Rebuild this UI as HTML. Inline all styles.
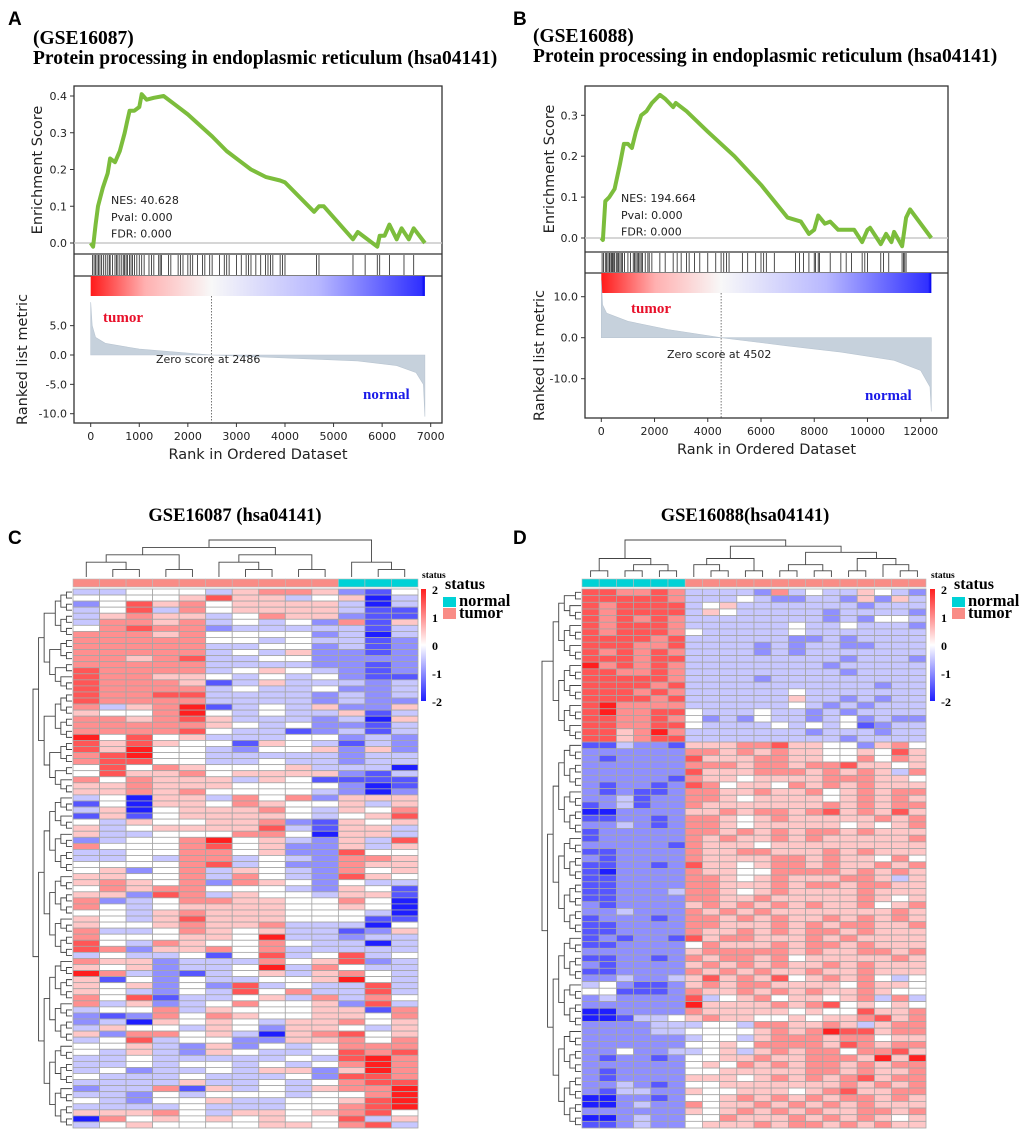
<!DOCTYPE html>
<html><head><meta charset="utf-8"><style>
html,body{margin:0;padding:0;background:#fff;}
svg{display:block;}
.tk{font-family:"DejaVu Sans","Liberation Sans",sans-serif;font-size:11px;fill:#222;}
.al{font-family:"DejaVu Sans","Liberation Sans",sans-serif;font-size:14.5px;fill:#222;}
.ser{font-family:"Liberation Serif",serif;font-weight:bold;}
</style></head><body>
<svg id="fig" width="1020" height="1132" viewBox="0 0 1020 1132" xmlns="http://www.w3.org/2000/svg">
<g id="root"></g>
</svg>
<script>
// ===== Panel A data =====
const esA_rank=[0,50,100,150,250,350,400,500,600,700,750,800,900,1000,1050,1150,1300,1500,1700,2000,2500,2800,3100,3300,3600,3900,4000,4600,4700,4800,5400,5500,5650,5900,5950,6050,6150,6300,6400,6550,6650,6880];
const esA_val=[0,-0.01,0.05,0.1,0.15,0.19,0.23,0.22,0.25,0.3,0.33,0.36,0.36,0.37,0.405,0.39,0.395,0.4,0.38,0.35,0.29,0.25,0.22,0.2,0.18,0.17,0.165,0.085,0.1,0.1,0.01,0.03,0.015,-0.01,0.02,0.02,0.05,0.01,0.04,0.01,0.04,0];
const hitsA=[40,70,100,130,160,190,220,260,300,340,380,400,450,500,530,560,600,640,680,700,730,760,800,830,860,900,950,1000,1050,1100,1200,1250,1300,1400,1430,1460,1600,1650,1800,1850,1900,2000,2050,2100,2200,2300,2350,2450,2500,2650,2750,2800,2850,3000,3100,3200,3250,3300,3400,3500,3600,3650,3700,3750,3900,3950,4000,4650,4700,5400,5650,5900,5950,6150,6450,6650];
const rmA_rank=[0,30,100,300,1000,2486,4000,5500,6300,6700,6850,6880];
const rmA_val=[9,5,3,2,1,0,-0.5,-1,-1.8,-3,-5,-10.5];
const esA_ticks=[0,0.1,0.2,0.3,0.4];
const rmA_ticks=[5,0,-5,-10];
const xA_ticks=[0,1000,2000,3000,4000,5000,6000,7000];
// ===== Panel B data =====
const esB_rank=[0,60,150,300,500,700,850,1000,1150,1300,1500,1700,1900,2200,2400,2700,2800,3200,4000,5000,6000,7000,7500,7800,8000,8150,8400,8600,8900,9500,9800,10000,10100,10500,10700,10900,11000,11300,11450,11600,12400];
const esB_val=[0,-0.005,0.09,0.1,0.12,0.18,0.23,0.23,0.22,0.26,0.3,0.31,0.33,0.35,0.34,0.32,0.33,0.31,0.26,0.2,0.13,0.05,0.04,0.01,0.02,0.055,0.035,0.04,0.02,0.02,-0.01,0.02,0.025,-0.015,0.01,-0.01,0.015,-0.02,0.05,0.07,0];
const hitsB=[30,80,150,200,250,300,330,380,420,450,500,560,600,650,700,750,800,870,1000,1100,1200,1250,1300,1350,1400,1450,1500,1550,1650,1750,1800,1900,2200,2400,2700,2850,3000,3200,3300,3500,3700,4000,4300,4500,4600,4700,4800,5300,5500,5800,6000,6100,6200,6500,7300,7450,7600,7800,8000,8050,8150,8200,8600,9000,9200,9400,9800,9900,10000,10500,10600,10800,11300,11350,11400,11450];
const rmB_rank=[0,50,200,1000,2500,4502,7000,9000,11000,12000,12350,12400];
const rmB_val=[14,8,6,4,2,0,-2,-3.5,-5.5,-8,-12,-18];
const esB_ticks=[0,0.1,0.2,0.3];
const rmB_ticks=[10,0,-10];
const xB_ticks=[0,2000,4000,6000,8000,10000,12000];
// ===== Heatmap C data (levels 0..8 => -2..2) =====
const statusC=["t","t","t","t","t","t","t","t","t","t","n","n","n"];
const heatC=["3344435665214","4444575534503","2475645555303","3473645555311","3565534655211","3665634342615","4676623333313","6665644442303","6666644343312","6666633442312","6666634352212","6656733442222","6666633332212","7666634543212","7665543434211","7666513533323","7666634334223","7667733332323","7666633332322","6356813435225","5446843433513","6656753332305","6666654342213","6666743312313","8474533344232","7575441543132","7584432445252","6784433333233","6774433433233","4746544453330","4755645555213","6465553541111","5565554444201","5565644443202","3405536462555","1405546544535","3504555643546","1514555543457","4354455621545","5345555731553","5334446640553","2344684532537","6444674522535","3344664522744","3343663432665","4444673422655","4524635432645","5544636432754","5654626542433","4656644432541","5527635443551","6234665544640","6434555544540","4435655544430","5435755544411","5445655633304","6334654533125","6444554833233","7436544643303","7625564633333","3433414734734","6552333645723","5452334836433","8632134535643","5142433445843","5452427343373","5432437463373","6471334536364","6352346445273","3446354445516","2126465445546","2305454355645","3544354255435","5266453056745","3473442255646","4453252434666","4353254334767","3343333343786","3343443434686","3423343552586","4333433342776","3333533434677","2336153435668","3324344434468","4324453344578","3333433344678","5556435545674","0645454544735","3454444554673"];
// ===== Heatmap D data =====
const statusD=["n","n","n","n","n","n","t","t","t","t","t","t","t","t","t","t","t","t","t","t"];
const heatD=["77667633332634335432","77777633343223325253","76777734533333332333","76777735433333233332","76767633333333232443","76777633333343343332","76777643333343333333","77776733333322323333","77766733332323322333","76767633332323333333","77767733333333323332","86767633333333233333","77667633333333323333","77777633332333333333","77776733333333333233","77767633333343333333","77776733333353323233","78666633333343232333","78667743334332323333","77667642324332342322","77667743333434341233","77568633333332333233","77567733333333323333","11322155566755442564","22222266565655445475","21222275556655446465","22222266656656675545","22222275556665656536","22222165545555666554","21221276455465656555","21211266556556456566","22312266545555456565","12312265555555656566","00222255656656756575","11221266545655555656","22321266545555545456","12222266565656656555","12222265655656555556","22222165554555555555","11222265566555656555","21222265555665655464","11221275545665655656","10222265544666656565","11222266545655566535","11222266555656656655","11222366545655556555","11222266556555556545","21222256565656556456","22322265656555555565","12221266565655656565","11222266555656566556","11222265565656656555","12122175665556565555","11222246555656656555","22222256666656556656","11221265665645555565","21222256565655656555","11222265656556556555","22322357565745656434","34211256566555546554","44111265565656556544","23222273456455456363","22222285555656745454","00222265555545447556","00133456554454556756","22223334436655653566","22223344445656877566","22222234435666566455","22222244546666576566","22422334535656646675","21221244556556665858","22222245465656656566","21222244555556656556","21222255545656567566","22321244555555565656","21332254455545675566","00221244565656566565","00232264556565656555","22222254565656556656","00232244655565656545","11232245556566565655"];
const cbar_ticks=[2,1,0,-1,-2];

const NS="http://www.w3.org/2000/svg";
const root=document.getElementById('root');
function mk(tag,attrs,parent,text){const e=document.createElementNS(NS,tag);for(const k in attrs)e.setAttribute(k,attrs[k]);if(text!==undefined)e.textContent=text;(parent||root).appendChild(e);return e;}

function gsea(P){
  const g=mk('g',{});
  
  
  const sx=r=>P.x0+(r-P.r0)*P.kx;
  const sy=v=>P.esZero-v*P.kes;
  const sr=v=>P.rmZero-v*P.krm;
  const fr=mk('rect',{x:P.L,y:P.T,width:P.R-P.L,height:P.B-P.T,fill:'none',stroke:'#333','stroke-width':1.3},g);
  
  mk('line',{x1:P.L,x2:P.R,y1:P.esB,y2:P.esB,stroke:'#333','stroke-width':1.3},g);
  mk('line',{x1:P.L,x2:P.R,y1:P.hitB,y2:P.hitB,stroke:'#333','stroke-width':1.3},g);
  mk('line',{x1:P.L,x2:P.R,y1:sy(0),y2:sy(0),stroke:'#c8c8c8','stroke-width':1.5},g);
  P.esTicks.forEach(t=>{mk('line',{x1:P.L-4,x2:P.L,y1:sy(t),y2:sy(t),stroke:'#333'},g);
    const tx=mk('text',{x:P.L-7,y:sy(t)+4,'text-anchor':'end',class:'tk'},g,t.toFixed(1));
    });
  let d='';P.esRank.forEach((r,i)=>{d+=(i?'L':'M')+sx(r).toFixed(1)+','+sy(P.esVal[i]).toFixed(1);});
  const es=mk('path',{d:d,fill:'none',stroke:'#7cbd3c','stroke-width':4,'stroke-linejoin':'round'},g);
  
  P.hits.forEach(h=>{const l=mk('line',{x1:sx(h),x2:sx(h),y1:P.esB+1,y2:P.hitB-1,stroke:'#222','stroke-width':0.8},g);
    });
  const gid='grad'+P.id;
  const lg=mk('linearGradient',{id:gid,x1:0,x2:1,y1:0,y2:0},g);
  const zf=P.zeroRank/P.maxRank;
  mk('stop',{offset:0,'stop-color':'#ff1a1a'},lg);
  mk('stop',{offset:zf*0.45,'stop-color':'#ffb0b0'},lg);
  mk('stop',{offset:zf,'stop-color':'#f8f8f8'},lg);
  mk('stop',{offset:zf+(1-zf)*0.5,'stop-color':'#b8b8ff'},lg);
  mk('stop',{offset:0.99,'stop-color':'#3030ff'},lg);
  mk('stop',{offset:1,'stop-color':'#0000ee'},lg);
  const gb=mk('rect',{x:sx(0),y:P.hitB,width:sx(P.maxRank)-sx(0),height:P.gradH,fill:'url(#'+gid+')'},g);
  
  let a='M'+sx(P.rmRank[0])+','+sr(0);
  P.rmRank.forEach((r,i)=>{a+='L'+sx(r).toFixed(1)+','+sr(P.rmVal[i]).toFixed(1);});
  a+='L'+sx(P.rmRank[P.rmRank.length-1])+','+sr(0)+'Z';
  const ar=mk('path',{d:a,fill:'#c6d1dc',stroke:'#b9c5d1','stroke-width':0.6},g);
  
  mk('line',{x1:sx(P.zeroRank),x2:sx(P.zeroRank),y1:P.hitB+P.gradH,y2:P.B,stroke:'#555','stroke-width':0.8,'stroke-dasharray':'1.5,1.5'},g);
  P.rmTicks.forEach(t=>{mk('line',{x1:P.L-4,x2:P.L,y1:sr(t),y2:sr(t),stroke:'#333'},g);
    const tx=mk('text',{x:P.L-7,y:sr(t)+4,'text-anchor':'end',class:'tk'},g,t.toFixed(1));
    });
  P.xTicks.forEach(t=>{mk('line',{x1:sx(t),x2:sx(t),y1:P.B,y2:P.B+4,stroke:'#333'},g);
    const tx=mk('text',{x:sx(t),y:P.B+17,'text-anchor':'middle',class:'tk'},g,String(t));
    });
  const xl=mk('text',{x:(P.L+P.R)/2,y:P.B+36,'text-anchor':'middle',class:'al'},g,'Rank in Ordered Dataset');
  
  const yl=mk('text',{x:0,y:0,'text-anchor':'middle',class:'al',transform:'translate('+P.yl1x+','+((P.T+P.esB)/2)+') rotate(-90)'},g,'Enrichment Score');
  
  const yl2=mk('text',{x:0,y:0,'text-anchor':'middle',class:'al',transform:'translate('+P.yl2x+','+((P.hitB+P.B)/2+10)+') rotate(-90)'},g,'Ranked list metric');
  
  P.stats.forEach((s,i)=>{const t=mk('text',{x:P.statX,y:P.statY+i*16.8,class:'tk'},g,s);
    });
  const tu=mk('text',{x:P.tumX,y:P.tumY,class:'ser','font-size':15,fill:'#e8102a'},g,'tumor');
  
  const no=mk('text',{x:P.norX,y:P.norY,class:'ser','font-size':15,fill:'#1a1ae8'},g,'normal');
  
  const zs=mk('text',{x:P.zsX,y:P.zsY,class:'tk'},g,'Zero score at '+P.zeroRank);
  
}
gsea({id:'A',name:'gsea-plot-a',L:74,R:442,T:86,esB:254,hitB:276,B:423,gradH:20,r0:0,x0:90.7,kx:340/7000,esZero:243,kes:367.5,rmZero:355,krm:5.87,
  esRank:esA_rank,esVal:esA_val,hits:hitsA,rmRank:rmA_rank,rmVal:rmA_val,esTicks:esA_ticks,rmTicks:rmA_ticks,xTicks:xA_ticks,
  zeroRank:2486,maxRank:6880,yl1x:42,yl2x:27,stats:['NES: 40.628','Pval: 0.000','FDR: 0.000'],statX:111,statY:204,
  tumX:103,tumY:322,norX:363,norY:399,zsX:156,zsY:363});
gsea({id:'B',name:'gsea-plot-b',L:585,R:948,T:86,esB:252,hitB:273,B:418,gradH:20,r0:0,x0:601.3,kx:319.4/12000,esZero:238,kes:409,rmZero:337.7,krm:4.1,
  esRank:esB_rank,esVal:esB_val,hits:hitsB,rmRank:rmB_rank,rmVal:rmB_val,esTicks:esB_ticks,rmTicks:rmB_ticks,xTicks:xB_ticks,
  zeroRank:4502,maxRank:12400,yl1x:554,yl2x:544,stats:['NES: 194.664','Pval: 0.000','FDR: 0.000'],statX:621,statY:202,
  tumX:631,tumY:313,norX:865,norY:400,zsX:667,zsY:358});

function txt(x,y,s,attrs,name){const t=mk('text',Object.assign({x:x,y:y},attrs),root,s);return t;}
const SANSB={'font-family':'"Liberation Sans",sans-serif','font-weight':'bold','font-size':19};
txt(8,25,'A',SANSB,'panel-label-a');txt(513,25,'B',SANSB,'panel-label-b');
txt(8,544,'C',SANSB,'panel-label-c');txt(513,544,'D',SANSB,'panel-label-d');
const SER={'class':'ser','font-size':19.5};
txt(33,44,'(GSE16087)',SER,'title-dataset-a');txt(33,64,'Protein processing in endoplasmic reticulum (hsa04141)',SER,'title-pathway-a');
txt(533,42,'(GSE16088)',SER,'title-dataset-b');txt(533,62,'Protein processing in endoplasmic reticulum (hsa04141)',SER,'title-pathway-b');
txt(235,521,'GSE16087 (hsa04141)',{'class':'ser','font-size':18.5,'text-anchor':'middle'},'heatmap-title-c');
txt(745,521,'GSE16088(hsa04141)',{'class':'ser','font-size':18.5,'text-anchor':'middle'},'heatmap-title-d');

function cellColor(c){const v=(c-4)/4;const t=Math.abs(v);
  const o=Math.round(255-(255-30)*t);
  return v>=0?'rgb(255,'+o+','+o+')':'rgb('+o+','+o+',255)';}

function heatmap(H){
  const g=mk('g',{});
  
  const nc=H.status.length,nr=H.rows.length;
  const cw=(H.x1-H.x0)/nc,rh=(H.y1-H.y0)/nr;
  H.rows.forEach((row,i)=>{for(let j=0;j<nc;j++){
    const r=mk('rect',{x:H.x0+j*cw,y:H.y0+i*rh,width:cw,height:rh,fill:cellColor(+row[j]),stroke:'#a6a6a6','stroke-width':0.8},g);
    }});
  H.status.forEach((s,j)=>{const r=mk('rect',{x:H.x0+j*cw,y:579,width:cw,height:8,fill:s==='n'?'#00d2d6':'#f98c86',stroke:'#bbb','stroke-width':0.6},g);
    });
  function depth(n){return Array.isArray(n)?1+Math.max(depth(n[0]),depth(n[1])):0;}
  const D=depth(H.ctree);
  function drawC(n){if(!Array.isArray(n))return{x:H.x0+(n+0.5)*cw,y:577};
    const a=drawC(n[0]),b=drawC(n[1]);const d=depth(n);
    const y=577-(d/D)*(577-H.ctop);
    mk('path',{d:'M'+a.x+','+a.y+'V'+y+'H'+b.x+'V'+b.y,fill:'none',stroke:'#444','stroke-width':0.9},g);
    return{x:(a.x+b.x)/2,y:y};}
  drawC(H.ctree);
  function build(a,b,top){if(b-a===1)return a;let m=top!==undefined?top:Math.floor((a+b)/2);return[build(a,m),build(m,b)];}
  const rt=build(0,nr,H.rsplit);const RD=depth(rt);
  function drawR(n){if(!Array.isArray(n))return{y:H.y0+(n+0.5)*rh,x:H.x0-1};
    const a=drawR(n[0]),b=drawR(n[1]);const d=depth(n);
    const x=H.x0-1-(d/RD)*(H.x0-1-H.rleft);
    mk('path',{d:'M'+a.x+','+a.y+'H'+x+'V'+b.y+'H'+b.x,fill:'none',stroke:'#444','stroke-width':0.9},g);
    return{x:x,y:(a.y+b.y)/2};}
  drawR(rt);
  const gid='hg'+H.name;
  const lg=mk('linearGradient',{id:gid,x1:0,x2:0,y1:0,y2:1},g);
  mk('stop',{offset:0,'stop-color':'#ff1e1e'},lg);mk('stop',{offset:0.5,'stop-color':'#ffffff'},lg);mk('stop',{offset:1,'stop-color':'#1e1eff'},lg);
  const cb=mk('rect',{x:H.lx,y:589,width:5,height:112,fill:'url(#'+gid+')'},g);
  
  cbar_ticks.forEach(t=>{const tt=mk('text',{x:H.lx+11,y:589+(2-t)/4*112+5,class:'ser','font-size':12},g,String(t));
    });
  const s1=mk('text',{x:H.lx+1,y:578,class:'ser','font-size':9.5},g,'status');
  const s2=mk('text',{x:H.lx+24,y:589,class:'ser','font-size':16},g,'status');
  const q1=mk('rect',{x:H.lx+22,y:597,width:13,height:10,fill:'#00d2d6'},g);
  const q2=mk('rect',{x:H.lx+22,y:608,width:13,height:11,fill:'#f98c86'},g);
  const l1=mk('text',{x:H.lx+38,y:606,class:'ser','font-size':16.5},g,'normal');
  const l2=mk('text',{x:H.lx+38,y:618,class:'ser','font-size':16.5},g,'tumor');
}
heatmap({name:'heatmap-c',status:statusC,rows:heatC,x0:73,x1:418,y0:589,y1:1128,ctop:540,rleft:33,rsplit:34,lx:421,
  ctree:[[[[0,[1,2]],[3,4]],[[5,[6,7]],[8,9]]],[10,[11,12]]]});
heatmap({name:'heatmap-d',status:statusD,rows:heatD,x0:582,x1:926,y0:589,y1:1128,ctop:540,rleft:542,rsplit:23,lx:930,
  ctree:[[[0,1],[[2,3],[4,5]]],[[[6,[7,8]],[9,10]],[[[11,12],[13,14]],[[15,16],[17,[18,19]]]]]]});
</script>
</body></html>
